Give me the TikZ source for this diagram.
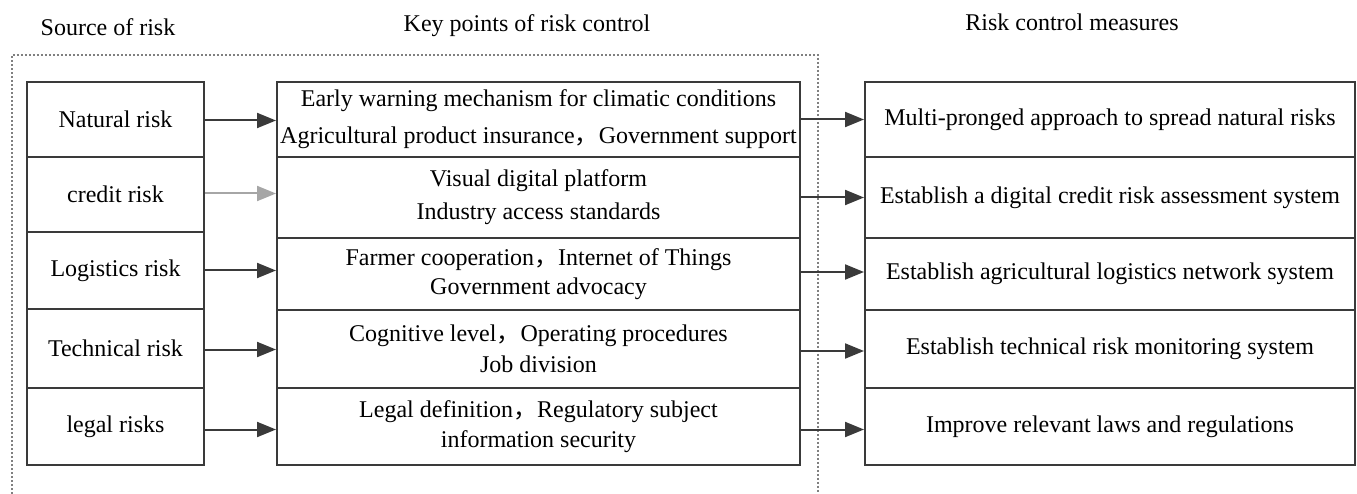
\documentclass[tikz,border=0pt]{standalone}
\usepackage{fontspec}
\setmainfont{Liberation Serif}
\newfontfamily\cjk{Noto Sans CJK SC}
\usetikzlibrary{arrows.meta}
\definecolor{boxline}{HTML}{3A3A3A}
\newcommand{\fc}{{\cjk ，}}
\begin{document}
\begin{tikzpicture}[x=1pt,y=-1pt,
  every node/.style={font=\fontsize{24}{30}\selectfont, text=black},
  box/.style={draw=boxline, line width=2pt, inner sep=0pt, align=center},
  lbox/.style={box, minimum width=177pt},
  mbox/.style={box, minimum width=523pt},
  rbox/.style={box, minimum width=490pt},
  arr/.style={draw=boxline, line width=2pt, -{Triangle[length=19pt,width=15pt]}},
  frame/.style={draw=gray, line width=1.6pt, dash pattern=on 2pt off 2pt},
  head/.style={inner sep=0pt}]
\useasboundingbox (0,0) rectangle (1357,494);
% dotted frame
\draw[frame] (12,494) -- (12,55) -- (818,55) -- (818,494);
% headers
\node[head] (h1) at (108,27) {Source of risk};
\node[head] (h2) at (527,26) {Key points of risk control};
\node[head] (h3) at (1072,22) {Risk control measures};
% left column
\node[lbox, minimum height=75pt] (l1) at (115.5,119.5) {Natural risk};
\node[lbox, minimum height=75pt] (l2) at (115.5,194.5) {credit risk};
\node[lbox, minimum height=77pt] (l3) at (115.5,270.5) {Logistics risk};
\node[lbox, minimum height=79pt] (l4) at (115.5,348.5) {Technical risk};
\node[lbox, minimum height=77pt] (l5) at (115.5,426.5) {legal risks};
% middle column
\node[mbox, minimum height=75pt] (m1) at (538.5,119.5) {Early warning mechanism for climatic conditions\\[7pt]Agricultural product insurance\fc Government support};
\node[mbox, minimum height=81pt] (m2) at (538.5,197.5) {Visual digital platform\\[3pt]Industry access standards};
\node[mbox, minimum height=72pt] (m3) at (538.5,274) {Farmer cooperation\fc Internet of Things\\[-1pt]Government advocacy};
\node[mbox, minimum height=78pt] (m4) at (538.5,349) {Cognitive level\fc Operating procedures\\[1pt]Job division};
\node[mbox, minimum height=77pt] (m5) at (538.5,426.5) {Legal definition\fc Regulatory subject\\[0pt]information security};
% right column
\node[rbox, minimum height=75pt] (r1) at (1110,119.5) {Multi-pronged approach to spread natural risks};
\node[rbox, minimum height=81pt] (r2) at (1110,197.5) {Establish a digital credit risk assessment system};
\node[rbox, minimum height=72pt] (r3) at (1110,274) {Establish agricultural logistics network system};
\node[rbox, minimum height=78pt] (r4) at (1110,349) {Establish technical risk monitoring system};
\node[rbox, minimum height=77pt] (r5) at (1110,426.5) {Improve relevant laws and regulations};
% arrows left -> middle
\draw[arr] ([yshift=-1pt]l1.east) -- ([yshift=-1pt]l1.east -| m1.west);
\draw[arr, draw=gray!70] ([yshift=1pt]l2.east) -- ([yshift=1pt]l2.east -| m2.west);
\draw[arr] (l3.east) -- (l3.east -| m3.west);
\draw[arr] ([yshift=-1pt]l4.east) -- ([yshift=-1pt]l4.east -| m4.west);
\draw[arr] ([yshift=-3pt]l5.east) -- ([yshift=-3pt]l5.east -| m5.west);
% arrows middle -> right
\draw[arr] (m1.east) -- (m1.east -| r1.west);
\draw[arr] (m2.east) -- (m2.east -| r2.west);
\draw[arr] ([yshift=2pt]m3.east) -- ([yshift=2pt]m3.east -| r3.west);
\draw[arr] ([yshift=-2pt]m4.east) -- ([yshift=-2pt]m4.east -| r4.west);
\draw[arr] ([yshift=-3pt]m5.east) -- ([yshift=-3pt]m5.east -| r5.west);
\end{tikzpicture}
\end{document}
